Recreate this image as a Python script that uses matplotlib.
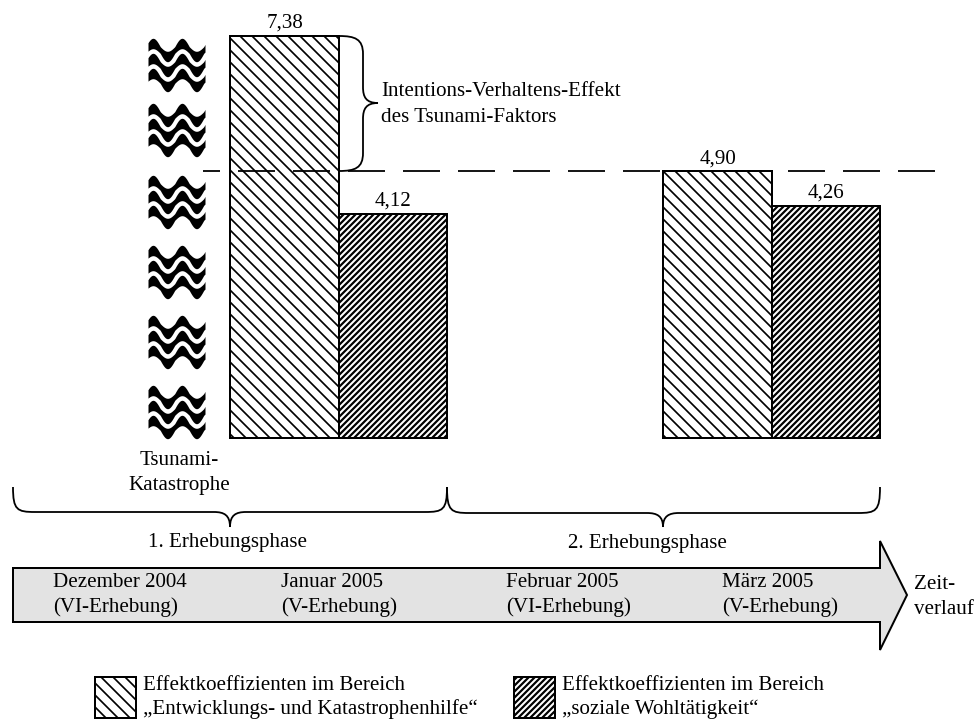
import numpy as np
import matplotlib
matplotlib.use("Agg")
import matplotlib.pyplot as plt
from matplotlib.path import Path
from matplotlib.patches import PathPatch, Polygon, Rectangle

plt.rcParams["font.family"] = ["Liberation Serif", "DejaVu Serif"]
plt.rcParams["lines.scale_dashes"] = False

# Chart values
light_values = [7.38, 4.90]
dark_values = [4.12, 4.26]
light_pos = [284.5, 717.5]
dark_pos = [393, 826]
bar_width = 108.5
reference_level = 4.90

# Text
brace_label = ["Intentions-Verhaltens-Effekt", "des Tsunami-Faktors"]
phases = ["1. Erhebungsphase", "2. Erhebungsphase"]
months = ["Dezember 2004", "Januar 2005", "Februar 2005", "März 2005"]
surveys = ["(VI-Erhebung)", "(V-Erhebung)", "(VI-Erhebung)", "(V-Erhebung)"]
month_x = [53, 281, 506, 722]
legend_lines = [["Effektkoeffizienten im Bereich", "„Entwicklungs- und Katastrophenhilfe“"],
                ["Effektkoeffizienten im Bereich", "„soziale Wohltätigkeit“"]]
wave_tops = [38, 103, 175, 245, 315, 385]

W, H = 979, 719
BASE = 438
PX_PER_UNIT = 54.47
FS = 21
TY = 2.5  # va="center" sits a bit high for this font
LIGHT_HATCH = "\\\\"
DARK_HATCH = "////"

# dpi 72 means one point is one pixel
fig = plt.figure(figsize=(W / 72, H / 72), dpi=72)

# Bars use their own value axis
ax = fig.add_axes([0, 1 - BASE / H, 1, BASE / H])
ax.set_xlim(0, W)
ax.set_ylim(0, BASE / PX_PER_UNIT)
ax.axis("off")

light = ax.bar(light_pos, light_values, width=bar_width, facecolor="white",
               edgecolor="black", linewidth=2, hatch=LIGHT_HATCH, clip_on=False)
dark = ax.bar(dark_pos, dark_values, width=bar_width, facecolor="white",
              edgecolor="black", linewidth=2, hatch=DARK_HATCH, clip_on=False)
for b in light:
    b.set_hatch_linewidth(1.7)
for b in dark:
    b.set_hatch_linewidth(2.2)

for x, v in zip(light_pos + dark_pos, light_values + dark_values):
    ax.annotate(f"{v:.2f}".replace(".", ","), (x, v), xytext=(0, 3),
                textcoords="offset points", ha="center", va="bottom", fontsize=FS)

# Everything else lives in pixel coordinates on top
ov = fig.add_axes([0, 0, 1, 1])
ov.set_xlim(0, W)
ov.set_ylim(H, 0)
ov.axis("off")
ov.patch.set_alpha(0)

# Dashed reference line
dash_y = BASE - reference_level * PX_PER_UNIT
ov.plot([203, 935], [dash_y, dash_y], color="black", lw=1.8,
        linestyle=(20, (37, 18)), solid_capstyle="butt")


def brace_h(x0, xm, x1, y0, y1, y2):
    # horizontal curly brace: ends at y0, bar at y1, tip at y2
    r = 16
    verts = [(x0, y0), (x0, y1 - 2), (x0 + 4, y1), (x0 + r + 6, y1),
             (xm - r, y1), (xm - 6, y1), (xm, y1 + 3), (xm, y2),
             (xm, y1 + 3), (xm + 6, y1), (xm + r, y1),
             (x1 - r - 6, y1), (x1 - 4, y1), (x1, y1 - 2), (x1, y0)]
    codes = [Path.MOVETO, Path.CURVE4, Path.CURVE4, Path.CURVE4,
             Path.LINETO, Path.CURVE4, Path.CURVE4, Path.CURVE4,
             Path.CURVE4, Path.CURVE4, Path.CURVE4,
             Path.LINETO, Path.CURVE4, Path.CURVE4, Path.CURVE4]
    ov.add_patch(PathPatch(Path(verts, codes), fill=False, edgecolor="black", lw=1.8))


def brace_v(x0, x1, x2, y0, ym, y1):
    # vertical curly brace: ends at x0, bar at x1, tip at x2
    r = 16
    verts = [(x0, y0), (x1 - 8, y0), (x1, y0 + 3), (x1, y0 + r + 2),
             (x1, ym - r), (x1, ym - 6), (x1 + 3, ym), (x2, ym),
             (x1 + 3, ym), (x1, ym + 6), (x1, ym + r),
             (x1, y1 - r - 2), (x1, y1 - 3), (x1 - 8, y1), (x0, y1)]
    codes = [Path.MOVETO, Path.CURVE4, Path.CURVE4, Path.CURVE4,
             Path.LINETO, Path.CURVE4, Path.CURVE4, Path.CURVE4,
             Path.CURVE4, Path.CURVE4, Path.CURVE4,
             Path.LINETO, Path.CURVE4, Path.CURVE4, Path.CURVE4]
    ov.add_patch(PathPatch(Path(verts, codes), fill=False, edgecolor="black", lw=1.8))


brace_v(339, 363, 378, 36, 103, 171)
brace_h(13, 230, 447, 487, 512, 527)
brace_h(447, 663, 880, 487, 513, 527)

# Wave symbols
wx = np.linspace(148, 205, 160)
for top in wave_tops:
    for k in range(3):
        mid = top + 12 + k * 15
        phase = (wx - 153) / 29 * 2 * np.pi
        centre = mid - 6.5 * np.cos(phase)
        half = 3.3 + 1.9 * np.abs(np.cos(phase))
        ov.fill_between(wx, centre - half, centre + half, color="black", lw=0)

# Time arrow
arrow = [(13, 568), (880, 568), (880, 541), (907, 595), (880, 650), (880, 622), (13, 622)]
ov.add_patch(Polygon(arrow, closed=True, facecolor="#e3e3e3", edgecolor="black", lw=2))

for x, m, s in zip(month_x, months, surveys):
    ov.text(x, 580 + TY, m, ha="left", va="center", fontsize=FS)
    ov.text(x, 605 + TY, s, ha="left", va="center", fontsize=FS)

ov.text(914, 582 + TY, "Zeit-", ha="left", va="center", fontsize=FS)
ov.text(914, 607 + TY, "verlauf", ha="left", va="center", fontsize=FS)

ov.text(381, 89 + TY, brace_label[0], ha="left", va="center", fontsize=FS)
ov.text(381, 115 + TY, brace_label[1], ha="left", va="center", fontsize=FS)
ov.text(179, 458 + TY, "Tsunami-", ha="center", va="center", fontsize=FS)
ov.text(179, 483 + TY, "Katastrophe", ha="center", va="center", fontsize=FS)
ov.text(228, 540 + TY, phases[0], ha="center", va="center", fontsize=FS)
ov.text(647, 541 + TY, phases[1], ha="center", va="center", fontsize=FS)

# Legend boxes
for x0, hatch, hlw, lines in zip([95, 514], [LIGHT_HATCH, DARK_HATCH], [1.7, 2.2], legend_lines):
    box = Rectangle((x0, 677), 41, 41, facecolor="white", edgecolor="black", lw=2, hatch=hatch)
    box.set_hatch_linewidth(hlw)
    ov.add_patch(box)
    ov.text(x0 + 48, 690, lines[0], ha="left", va="baseline", fontsize=FS)
    ov.text(x0 + 48, 714, lines[1], ha="left", va="baseline", fontsize=FS)

fig.savefig("out.png", dpi=72)
